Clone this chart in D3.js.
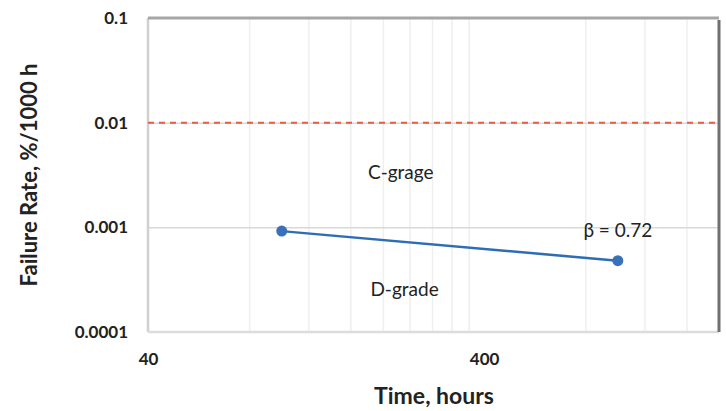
<!DOCTYPE html>
<html>
<head>
<meta charset="utf-8">
<script src="https://cdn.jsdelivr.net/npm/d3@7"></script>
<style>
  body { margin: 0; background: #fff; }
  svg { display: block; font-family: Lato, "Open Sans", sans-serif; }
</style>
</head>
<body>
<svg id="chart"></svg>
<script>
// data
const hours = [100, 1000];
const failureRate = [0.00092, 0.00048];
const cGradeLimit = 0.01;
const yTicks = [0.0001, 0.001, 0.01, 0.1];
const xTicks = [40, 400];
const xMinor = [80, 120, 160, 200, 240, 280, 320, 360, 800, 1200, 1600];
const annotations = [
  {text: "C-grage", x: 226, y: 0.0032},
  {text: "D-grade", x: 232, y: 0.000243},
  {text: "β = 0.72", x: 1000, y: 0.00089}
];

const W = 726, H = 411;
const margin = {top: 18, right: 7, bottom: 79, left: 148},
    width = W - margin.left - margin.right,
    height = H - margin.top - margin.bottom;

const svg = d3.select("#chart").attr("width", W).attr("height", H);
const g = svg.append("g").attr("transform", `translate(${margin.left},${margin.top})`);

const x = d3.scaleLog().domain([40, 2000]).range([0, width]);
const y = d3.scaleLog().domain([0.0001, 0.1]).range([height, 0]);

// minor vertical gridlines
g.append("g")
  .call(d3.axisBottom(x).tickValues(xMinor).tickSize(height).tickFormat(""))
  .call(a => a.select(".domain").remove())
  .call(a => a.selectAll("line").attr("stroke", "#efefef").attr("stroke-width", 1.5));

// horizontal gridlines
g.append("g")
  .call(d3.axisLeft(y).tickValues([0.001, 0.01]).tickSize(-width).tickFormat(""))
  .call(a => a.select(".domain").remove())
  .call(a => a.selectAll("line").attr("stroke", "#d9d9d9").attr("stroke-width", 1.5));

// frame
g.append("line").attr("x1", 0).attr("x2", 0).attr("y1", 0).attr("y2", height)
  .attr("stroke", "#d0d0d0").attr("stroke-width", 2.5);
g.append("line").attr("x1", 0).attr("x2", width).attr("y1", height).attr("y2", height)
  .attr("stroke", "#dcdcdc").attr("stroke-width", 2.5);
g.append("line").attr("x1", 0).attr("x2", width).attr("y1", y(0.1)).attr("y2", y(0.1))
  .attr("stroke", "#a6a6a6").attr("stroke-width", 3);
g.append("line").attr("x1", width).attr("x2", width).attr("y1", 2).attr("y2", height)
  .attr("stroke", "#707070").attr("stroke-width", 3);

// C-grade limit
g.append("line")
  .attr("x1", 0).attr("x2", width)
  .attr("y1", y(cGradeLimit)).attr("y2", y(cGradeLimit))
  .attr("stroke", "#ec5a40").attr("stroke-width", 2)
  .attr("stroke-dasharray", "6,5");

// y axis labels
g.append("g")
  .call(d3.axisLeft(y).tickValues(yTicks).tickSize(0).tickPadding(20)
    .tickFormat(d => String(d)))
  .call(a => a.select(".domain").remove())
  .call(a => a.selectAll("text").attr("font-size", 17).attr("font-weight", "bold")
    .attr("fill", "#222").attr("font-family", "Lato, sans-serif"));

// x axis labels
g.append("g")
  .attr("transform", `translate(0,${height})`)
  .call(d3.axisBottom(x).tickValues(xTicks).tickSize(0).tickPadding(21)
    .tickFormat(d => String(d)))
  .call(a => a.select(".domain").remove())
  .call(a => a.selectAll("text").attr("font-size", 17).attr("font-weight", "bold")
    .attr("fill", "#222").attr("font-family", "Lato, sans-serif"));

// series
const pts = hours.map((h, i) => [h, failureRate[i]]);
g.append("path")
  .datum(pts)
  .attr("fill", "none")
  .attr("stroke", "#2e6db4")
  .attr("stroke-width", 2.5)
  .attr("d", d3.line().x(d => x(d[0])).y(d => y(d[1])));
g.selectAll("circle.pt").data(pts).enter().append("circle")
  .attr("class", "pt")
  .attr("cx", d => x(d[0])).attr("cy", d => y(d[1])).attr("r", 5.5)
  .attr("fill", "#3a70b8");

// annotations
g.selectAll("text.ann").data(annotations).enter().append("text")
  .attr("class", "ann")
  .attr("x", d => x(d.x)).attr("y", d => y(d.y))
  .attr("text-anchor", "middle").attr("dominant-baseline", "middle")
  .attr("font-size", 19).attr("fill", "#222")
  .text(d => d.text);

// axis titles
svg.append("text")
  .attr("x", 434).attr("y", 398)
  .attr("text-anchor", "middle").attr("dominant-baseline", "middle")
  .attr("font-size", 23).attr("font-weight", "bold").attr("fill", "#222")
  .text("Time, hours");
svg.append("text")
  .attr("transform", "translate(31,175) rotate(-90)")
  .attr("text-anchor", "middle").attr("dominant-baseline", "middle")
  .attr("font-size", 22).attr("font-weight", "bold").attr("fill", "#222")
  .text("Failure Rate, %/1000 h");
</script>
</body>
</html>
